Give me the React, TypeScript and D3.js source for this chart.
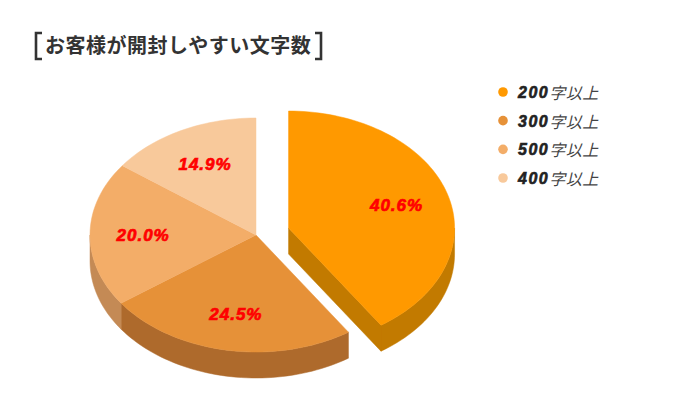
import React from 'react';
import * as d3 from 'd3';

const categories = ['200', '300', '500', '400'];
const categorySuffix = '字以上';
const values = [40.6, 24.5, 20.0, 14.9];
const valueLabels = ['40.6%', '24.5%', '20.0%', '14.9%'];
const topColors = ['#FF9900', '#E69138', '#F3AD68', '#F8C99B'];
const sideColors = ['#C27A00', '#AE6A2C', '#C48A55', '#C9A07A'];
const explode = [0.205, 0, 0, 0];
const title = 'お客様が開封しやすい文字数';

const W = 693;
const H = 399;
const CX = 256;
const CY = 235;
const RX = 166;
const RY = 117;
const DEPTH = 26;

function pt(cx: number, cy: number, a: number, k = 1): [number, number] {
  return [cx + RX * k * Math.sin(a), cy - RY * k * Math.cos(a)];
}

function arcPts(cx: number, cy: number, a0: number, a1: number, dy = 0): [number, number][] {
  const n = Math.max(2, Math.ceil(((a1 - a0) / (2 * Math.PI)) * 200));
  const out: [number, number][] = [];
  for (let i = 0; i <= n; i++) {
    const a = a0 + ((a1 - a0) * i) / n;
    const p = pt(cx, cy, a);
    out.push([p[0], p[1] + dy]);
  }
  return out;
}

const line = d3.line<[number, number]>();

export default function App() {
  const arcs = d3.pie<number>().sort(null).value((d) => d).startAngle(0).endAngle(2 * Math.PI)(values);

  const slices = arcs.map((a, i) => {
    const mid = (a.startAngle + a.endAngle) / 2;
    const e = explode[i];
    const [cx, cy] = [CX + RX * e * Math.sin(mid), CY - RY * e * Math.cos(mid)];
    return { i, a0: a.startAngle, a1: a.endAngle, mid, cx, cy, e };
  });

  const sides: JSX.Element[] = [];
  const faces: JSX.Element[] = [];
  const tops: JSX.Element[] = [];
  const labels: JSX.Element[] = [];

  slices.forEach((s) => {
    const lo = Math.max(s.a0, Math.PI / 2);
    const hi = Math.min(s.a1, (3 * Math.PI) / 2);
    if (hi > lo) {
      const upper = arcPts(s.cx, s.cy, lo, hi);
      const lower = arcPts(s.cx, s.cy, lo, hi, DEPTH).reverse();
      sides.push(
        <path key={'side' + s.i} d={line([...upper, ...lower])! + 'Z'} fill={sideColors[s.i]} stroke={sideColors[s.i]} strokeWidth={0.5} />
      );
    }
    if (s.e > 0) {
      if (Math.sin(s.a1) > 0) {
        const rim = pt(s.cx, s.cy, s.a1);
        const poly: [number, number][] = [
          [s.cx, s.cy],
          rim,
          [rim[0], rim[1] + DEPTH],
          [s.cx, s.cy + DEPTH],
        ];
        faces.push(<path key={'fe' + s.i} d={line(poly)! + 'Z'} fill={sideColors[s.i]} stroke={sideColors[s.i]} strokeWidth={0.5} />);
      }
      if (Math.sin(s.a0) < 0) {
        const rim = pt(s.cx, s.cy, s.a0);
        const poly: [number, number][] = [
          [s.cx, s.cy],
          rim,
          [rim[0], rim[1] + DEPTH],
          [s.cx, s.cy + DEPTH],
        ];
        faces.push(<path key={'fs' + s.i} d={line(poly)! + 'Z'} fill={sideColors[s.i]} stroke={sideColors[s.i]} strokeWidth={0.5} />);
      }
    }
    const top: [number, number][] = [[s.cx, s.cy], ...arcPts(s.cx, s.cy, s.a0, s.a1)];
    tops.push(<path key={'top' + s.i} d={line(top)! + 'Z'} fill={topColors[s.i]} stroke={topColors[s.i]} strokeWidth={0.5} />);
    const lp = pt(s.cx, s.cy, s.mid, 0.68);
    labels.push(
      <text
        key={'lab' + s.i}
        x={lp[0]}
        y={lp[1] + 1}
        textAnchor="middle"
        dominantBaseline="central"
        fontFamily="'Liberation Sans', Arial, sans-serif"
        fontWeight="bold"
        fontStyle="italic"
        fontSize={17}
        letterSpacing={1}
        fill="#FF0000"
        stroke="#FF0000"
        strokeWidth={0.7}
      >
        {valueLabels[s.i]}
      </text>
    );
  });

  const legendY = d3.scalePoint<string>().domain(categories).range([92, 178]);

  return (
    <svg width={W} height={H} style={{ position: 'absolute', left: 0, top: 0, background: '#fff' }}>
      <rect x={0} y={0} width={W} height={H} fill="#fff" />
      <path d="M42,33 H36 V59 H42" fill="none" stroke="#333" strokeWidth={2.6} />
      <path d="M315,33 H321 V59 H315" fill="none" stroke="#333" strokeWidth={2.6} />
      <text x={45} y={53} fontFamily="'Noto Sans CJK JP', sans-serif" fontWeight={700} fontSize={20} letterSpacing={0.5} fill="#333">
        {title}
      </text>
      {sides}
      {faces}
      {tops}
      {labels}
      {categories.map((c, i) => (
        <g key={'leg' + c}>
          <circle cx={503} cy={legendY(c)!} r={4.8} fill={topColors[i]} />
          <text x={518} y={legendY(c)!} dominantBaseline="central" fontSize={16} fontStyle="italic">
            <tspan fontFamily="'Liberation Sans', Arial, sans-serif" fontWeight="bold" letterSpacing={1.5} fill="#222" stroke="#222" strokeWidth={0.6}>
              {c}
            </tspan>
            <tspan fontFamily="'Noto Sans CJK JP', sans-serif" fontWeight={400} letterSpacing={0.5} fill="#444">
              {categorySuffix}
            </tspan>
          </text>
        </g>
      ))}
    </svg>
  );
}
